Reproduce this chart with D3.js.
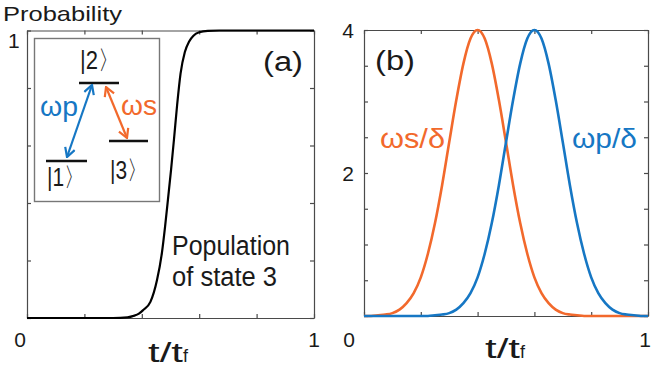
<!DOCTYPE html>
<html>
<head>
<meta charset="utf-8">
<script src="https://cdn.jsdelivr.net/npm/d3@7"></script>
<style>
  body { margin: 0; background: #fff; }
  svg text { font-family: "Liberation Sans", Arial, sans-serif; fill: #1a1a1a; }
</style>
</head>
<body>
<div id="chart"></div>
<script>
// ---- panel (a): population of state 3 vs t/tf ----
const popT = [0, 0.30, 0.35, 0.37, 0.39, 0.405, 0.43, 0.453, 0.47, 0.481, 0.491, 0.502,
              0.512, 0.523, 0.535, 0.55, 0.565, 0.58, 0.60, 0.63, 0.67, 1];
const popP = [0, 0, 0.002, 0.007, 0.015, 0.028, 0.056, 0.132, 0.226, 0.317, 0.411, 0.516,
              0.62, 0.74, 0.85, 0.925, 0.962, 0.982, 0.994, 0.999, 1, 1];

// ---- panel (b): pulse amplitudes (in units of delta) on a common time grid ----
const tGrid = [0, 0.025, 0.05, 0.075, 0.1, 0.125, 0.15, 0.175, 0.2, 0.225,
               0.25, 0.275, 0.3, 0.325, 0.35, 0.375, 0.4, 0.425, 0.45, 0.475,
               0.5, 0.525, 0.55, 0.575, 0.6, 0.625, 0.65, 0.675, 0.7, 0.725,
               0.75, 0.775, 0.8, 0.825, 0.85, 0.875, 0.9, 0.925, 0.95, 0.975, 1];
const omegaS = [0, 0, 0.01, 0.02, 0.04, 0.09, 0.18, 0.32, 0.54, 0.87,
                1.30, 1.83, 2.43, 3.02, 3.53, 3.88, 4.00, 3.88, 3.53, 3.02,
                2.43, 1.83, 1.30, 0.87, 0.54, 0.32, 0.18, 0.09, 0.04, 0.02,
                0.01, 0, 0, 0, 0, 0, 0, 0, 0, 0, 0];
const omegaP = [0, 0, 0, 0, 0, 0, 0, 0, 0, 0,
                0.01, 0.02, 0.04, 0.09, 0.18, 0.32, 0.54, 0.87, 1.30, 1.83,
                2.43, 3.02, 3.53, 3.88, 4.00, 3.88, 3.53, 3.02, 2.43, 1.83,
                1.30, 0.87, 0.54, 0.32, 0.18, 0.09, 0.04, 0.02, 0.01, 0, 0];

// ticks
const xTicks = [0, 0.2, 0.4, 0.6, 0.8, 1];
const yTicksA = [0, 0.2, 0.4, 0.6, 0.8, 1];
const yTicksB = [0, 0.5, 1, 1.5, 2, 2.5, 3, 3.5, 4];

const blue = "#1677c4";
const orange = "#f2692c";
const boxColor = "#4a4a4a";

const svg = d3.select("#chart").append("svg")
    .attr("width", 652)
    .attr("height", 369);

// arrow heads for the level diagram
const defs = svg.append("defs");
[["arrBlue", blue], ["arrOrange", orange]].forEach(([id, c]) => {
    defs.append("marker")
        .attr("id", id)
        .attr("viewBox", "0 0 12 12")
        .attr("refX", 11).attr("refY", 6)
        .attr("markerWidth", 12).attr("markerHeight", 12)
        .attr("markerUnits", "userSpaceOnUse")
        .attr("orient", "auto-start-reverse")
        .append("path")
        .attr("d", "M2,1 L11,6 L2,11")
        .attr("fill", "none")
        .attr("stroke", c)
        .attr("stroke-width", 2.2);
});

// draws a boxed frame with inward ticks on all four sides
function frame(x, y, yTicks) {
    const [x0, x1] = x.range();
    const [y0, y1] = y.range();
    const g = svg.append("g");
    const style = sel => {
        sel.selectAll("path, line").attr("stroke", boxColor).attr("stroke-width", 1.2);
        sel.selectAll("text").remove();
    };
    g.append("g").attr("transform", `translate(0,${y0})`)
        .call(d3.axisBottom(x).tickValues(xTicks).tickSize(-4).tickSizeOuter(0)).call(style);
    g.append("g").attr("transform", `translate(0,${y1})`)
        .call(d3.axisTop(x).tickValues(xTicks).tickSize(-4).tickSizeOuter(0)).call(style);
    g.append("g").attr("transform", `translate(${x0},0)`)
        .call(d3.axisLeft(y).tickValues(yTicks).tickSize(-4).tickSizeOuter(0)).call(style);
    g.append("g").attr("transform", `translate(${x1},0)`)
        .call(d3.axisRight(y).tickValues(yTicks).tickSize(-4).tickSizeOuter(0)).call(style);
    return g;
}

function label(x, y, txt, size, opts = {}) {
    const t = svg.append("text")
        .attr("x", x).attr("y", y)
        .attr("font-size", size)
        .attr("text-anchor", opts.anchor || "start")
        .style("fill", opts.color || "#1a1a1a")
        .text(txt);
    if (opts.width) t.attr("textLength", opts.width).attr("lengthAdjust", "spacingAndGlyphs");
    return t;
}

function axisTitle(cx, y) {
    const t = svg.append("text")
        .attr("x", cx).attr("y", y)
        .attr("text-anchor", "middle")
        .attr("font-size", 27);
    t.append("tspan").text("t/t").attr("textLength", 35).attr("lengthAdjust", "spacingAndGlyphs");
    t.append("tspan").text("f").attr("font-size", 18);
}

// ================= panel (a) =================
const xA = d3.scaleLinear().domain([0, 1]).range([27, 314]);
const yA = d3.scaleLinear().domain([0, 1]).range([318, 30.5]);

frame(xA, yA, yTicksA);

svg.append("path")
    .datum(popT.map((t, i) => [t, popP[i]]))
    .attr("fill", "none")
    .attr("stroke", "#000")
    .attr("stroke-width", 2.2)
    .attr("d", d3.line().x(d => xA(d[0])).y(d => yA(d[1])).curve(d3.curveMonotoneX));

label(3, 21, "Probability", 21, { width: 119 });
label(8, 48, "1", 21);
label(20, 347, "0", 21, { anchor: "middle" });
label(xA(1), 347, "1", 21, { anchor: "middle" });
axisTitle(168, 362);
label(283, 71, "(a)", 27, { anchor: "middle", width: 40 });
label(172, 255, "Population", 27, { width: 118 });
label(172, 286, "of state 3", 27, { width: 105 });

// inset: three-level diagram
svg.append("rect")
    .attr("x", 34.5).attr("y", 38.5)
    .attr("width", 125).attr("height", 163)
    .attr("fill", "#fff")
    .attr("stroke", "#777")
    .attr("stroke-width", 1.4);

const levels = [[79, 119, 83], [46, 87, 161], [109, 148, 141]];
svg.append("g").selectAll("line").data(levels).join("line")
    .attr("x1", d => d[0]).attr("x2", d => d[1])
    .attr("y1", d => d[2]).attr("y2", d => d[2])
    .attr("stroke", "#111").attr("stroke-width", 2.4);

svg.append("line")
    .attr("x1", 67).attr("y1", 157).attr("x2", 92).attr("y2", 85)
    .attr("stroke", blue).attr("stroke-width", 2.2)
    .attr("marker-start", "url(#arrBlue)").attr("marker-end", "url(#arrBlue)");
svg.append("line")
    .attr("x1", 106).attr("y1", 87).attr("x2", 127).attr("y2", 138)
    .attr("stroke", orange).attr("stroke-width", 2.2)
    .attr("marker-start", "url(#arrOrange)").attr("marker-end", "url(#arrOrange)");

label(100, 69, "|2\u3009", 26, { anchor: "middle", width: 40 });
label(66, 186, "|1\u3009", 26, { anchor: "middle", width: 38 });
label(129, 179, "|3\u3009", 26, { anchor: "middle", width: 38 });
label(59, 116, "\u03c9p", 27, { anchor: "middle", color: blue, width: 38 });
label(139, 115, "\u03c9s", 27, { anchor: "middle", color: orange, width: 36 });

// ================= panel (b) =================
const xB = d3.scaleLinear().domain([0, 1]).range([364, 648]);
const yB = d3.scaleLinear().domain([0, 4]).range([316, 30]);

frame(xB, yB, yTicksB);

const lineB = d3.line().x(d => xB(d[0])).y(d => yB(d[1])).curve(d3.curveMonotoneX);
svg.append("path")
    .datum(tGrid.map((t, i) => [t, omegaS[i]]))
    .attr("fill", "none").attr("stroke", orange).attr("stroke-width", 2.6)
    .attr("d", lineB);
svg.append("path")
    .datum(tGrid.map((t, i) => [t, omegaP[i]]))
    .attr("fill", "none").attr("stroke", blue).attr("stroke-width", 2.6)
    .attr("d", lineB);

label(348, yB(4) + 8, "4", 21, { anchor: "middle" });
label(348, yB(2) + 8, "2", 21, { anchor: "middle" });
label(349, 347, "0", 21, { anchor: "middle" });
label(645, 347, "1", 21, { anchor: "middle" });
axisTitle(505, 358);
label(395, 70, "(b)", 27, { anchor: "middle", width: 40 });
label(380, 148, "\u03c9s/\u03b4", 27, { color: orange, width: 65 });
label(572, 148, "\u03c9p/\u03b4", 27, { color: blue, width: 65 });
</script>
</body>
</html>
